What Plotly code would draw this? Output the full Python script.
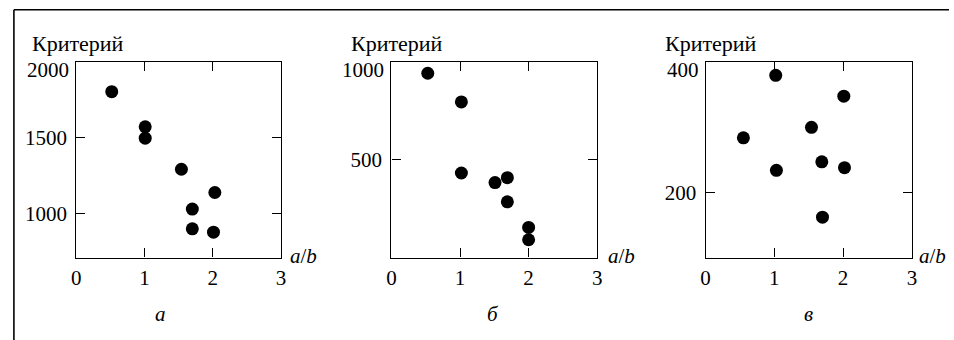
import plotly.graph_objects as go

# ---- data ----
a_x = [0.52, 1.01, 1.01, 1.54, 2.03, 1.70, 1.70, 2.01]
a_y = [1805, 1572, 1497, 1291, 1137, 1027, 896, 874]

b_x = [0.53, 1.02, 1.02, 1.51, 1.69, 1.69, 2.00, 2.00]
b_y = [944, 797, 433, 384, 409, 285, 154, 91]

c_x = [1.02, 2.01, 1.54, 0.55, 1.69, 1.03, 2.02, 1.70]
c_y = [380, 348, 300, 284, 247, 234, 238, 162]

x_ticks = [0, 1, 2, 3]
a_yticks = [1000, 1500]
b_yticks = [500]
c_yticks = [200]
a_top, b_top, c_top = 2000, 1000, 400

y_label = "Критерий"
x_label = "<i>a</i>/<i>b</i>"
panel_labels = ["<i>а</i>", "<i>б</i>", "<i>в</i>"]

W, H = 954, 340
FONT = "Liberation Serif"
FS = 21
FS_LAB = 22


def px(x):
    return x / W


def py(y):
    return 1 - y / H


fig = go.Figure()
panels = [
    (a_x, a_y, "x", "y"),
    (b_x, b_y, "x2", "y2"),
    (c_x, c_y, "x3", "y3"),
]
for xs, ys, xa, ya in panels:
    fig.add_trace(go.Scatter(x=xs, y=ys, mode="markers", xaxis=xa, yaxis=ya,
                             marker=dict(color="black", size=13),
                             showlegend=False, hoverinfo="skip"))

x_domains = [(72, 279), (390.5, 598.5), (708, 916.5)]
y_dom = [py(257.5), py(62.3)]
y_ranges = [[706, 2000], [0, 1000], [100, 400]]
y_tickvals = [a_yticks, b_yticks, c_yticks]
tops = [a_top, b_top, c_top]

common = dict(showgrid=False, zeroline=False, showline=True, linecolor="black",
              linewidth=1.2, mirror="ticks", ticks="inside", ticklen=9,
              tickcolor="black", tickwidth=1.2,
              tickfont=dict(family=FONT, size=FS, color="black"))

layout = dict(width=W, height=H, margin=dict(l=0, r=0, t=0, b=0),
              plot_bgcolor="white", paper_bgcolor="white", showlegend=False,
              font=dict(family=FONT, size=FS, color="black"))

for i in range(3):
    sfx = "" if i == 0 else str(i + 1)
    layout["xaxis" + sfx] = dict(common, domain=[px(x_domains[i][0]), px(x_domains[i][1])],
                                 range=[0, 3], tickvals=x_ticks,
                                 anchor="y" + sfx, ticklabelstandoff=1)
    layout["yaxis" + sfx] = dict(common, domain=y_dom, range=y_ranges[i],
                                 tickvals=y_tickvals[i], anchor="x" + sfx,
                                 ticklabelstandoff=4)

fig.update_layout(**layout)

ann = []
ylab_x = [25, 348, 665]
xlab_x = [286, 607, 922]
panel_x = [157, 493, 812]
for i in range(3):
    sfx = "" if i == 0 else str(i + 1)
    ann.append(dict(x=0, xref="x" + sfx, y=tops[i], yref="y" + sfx,
                    text=str(tops[i]), showarrow=False, xanchor="right",
                    yanchor="middle", xshift=-5, yshift=-8,
                    font=dict(family=FONT, size=FS, color="black")))
    ann.append(dict(x=px(ylab_x[i]), y=py(43), xref="paper", yref="paper",
                    text=y_label, showarrow=False, xanchor="left", yanchor="middle",
                    font=dict(family=FONT, size=FS_LAB, color="black")))
    ann.append(dict(x=px(xlab_x[i]), y=py(256), xref="paper", yref="paper",
                    text=x_label, showarrow=False, xanchor="left", yanchor="middle",
                    font=dict(family=FONT, size=FS, color="black")))
    ann.append(dict(x=px(panel_x[i]), y=py(314), xref="paper", yref="paper",
                    text=panel_labels[i], showarrow=False, xanchor="center",
                    yanchor="middle",
                    font=dict(family=FONT, size=FS, color="black")))
fig.update_layout(annotations=ann)

fig.add_shape(type="line", xref="paper", yref="paper", x0=px(9), x1=1.0,
              y0=py(9.7), y1=py(9.7), line=dict(color="black", width=1.6))
fig.add_shape(type="line", xref="paper", yref="paper", x0=px(9), x1=px(9),
              y0=py(9.7), y1=0, line=dict(color="black", width=1.6))

fig.write_html("out.html", config={"displayModeBar": False},
               post_script="document.body.style.margin='0';document.body.style.overflow='hidden';")
